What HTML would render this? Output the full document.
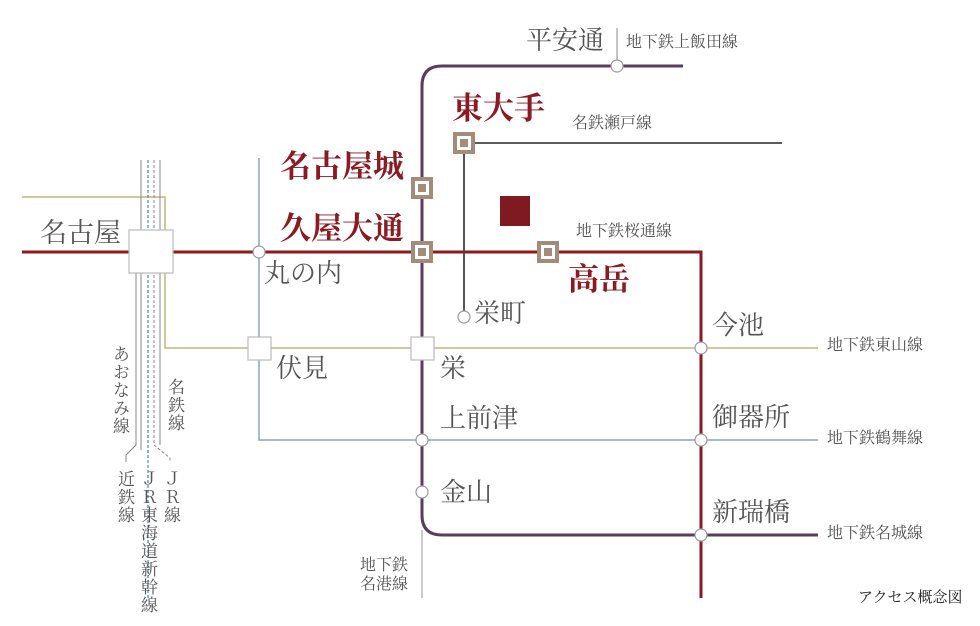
<!DOCTYPE html>
<html><head><meta charset="utf-8"><style>
body{margin:0;background:#fff;}
#w{position:relative;width:980px;height:626px;overflow:hidden;font-family:"Liberation Serif","Noto Serif CJK SC","Noto Sans CJK JP",serif;}
.t{position:absolute;white-space:nowrap;line-height:1;color:#555;}
.v{position:absolute;writing-mode:vertical-rl;line-height:1;color:#555;font-size:17px;letter-spacing:1px;}
.r{color:#8b1a22;font-weight:bold;}
</style></head><body><div id="w">
<svg width="980" height="626" style="position:absolute;left:0;top:0">
<g fill="none">
<path d="M22 197 H165 V348 H818" stroke="#c8b27a" stroke-width="1.5"/>
<path d="M259 158 V440 H818" stroke="#8aa6b2" stroke-width="1.5"/>
<path d="M136 230 V445 L126 455 V462" stroke="#888" stroke-width="1"/>
<path d="M141 160 V450" stroke="#888" stroke-width="1"/>
<path d="M148 160 V600" stroke="#4a8aa0" stroke-width="1.2" stroke-dasharray="3,2"/>
<path d="M154 160 V445 L170 458 V462" stroke="#888" stroke-width="1" stroke-dasharray="3,2"/>
<path d="M160 160 V445" stroke="#888" stroke-width="1"/>
<path d="M422 530 V598" stroke="#aaa" stroke-width="1.2"/>
<path d="M683 66 H442 Q422 66 422 86 V515 Q422 535 442 535 H818" stroke="#5b3c5e" stroke-width="3"/>
<path d="M22 252 H701 V598" stroke="#8b1a22" stroke-width="3"/>
<path d="M617 28 V60" stroke="#888" stroke-width="1"/>
<path d="M782 143 H464 V312" stroke="#444" stroke-width="1.8"/>
</g>
<rect x="129" y="230" width="44" height="43" fill="#fff" stroke="#bbb" stroke-width="1.2"/>
<rect x="248" y="337" width="23" height="23" fill="#fff" stroke="#bbb" stroke-width="1.2"/>
<rect x="411" y="337" width="23" height="23" fill="#fff" stroke="#bbb" stroke-width="1.2"/>
<g fill="#fff" stroke="#999" stroke-width="1.2">
<circle cx="259" cy="252" r="6"/><circle cx="617" cy="66" r="6"/><circle cx="464" cy="317" r="6"/>
<circle cx="422" cy="440" r="6"/><circle cx="422" cy="492" r="6"/>
<circle cx="701" cy="348" r="6"/><circle cx="701" cy="440" r="6"/><circle cx="701" cy="535" r="6"/>
</g>
<g>
<rect x="411" y="177" width="22" height="22" fill="#a48c7a"/><rect x="415" y="181" width="14" height="14" fill="#fff"/><rect x="418" y="184" width="8" height="8" fill="#a48c7a"/>
<rect x="411" y="241" width="22" height="22" fill="#a48c7a"/><rect x="415" y="245" width="14" height="14" fill="#fff"/><rect x="418" y="248" width="8" height="8" fill="#a48c7a"/>
<rect x="453" y="132" width="22" height="22" fill="#a48c7a"/><rect x="457" y="136" width="14" height="14" fill="#fff"/><rect x="460" y="139" width="8" height="8" fill="#a48c7a"/>
<rect x="537" y="241" width="22" height="22" fill="#a48c7a"/><rect x="541" y="245" width="14" height="14" fill="#fff"/><rect x="544" y="248" width="8" height="8" fill="#a48c7a"/>
</g>
<rect x="500" y="196" width="30" height="30" fill="#7e1a20"/>
</svg>
<div class="t" style="left:40px;top:220px;font-size:27px">名古屋</div>
<div class="t r" style="left:280px;top:151px;font-size:31px">名古屋城</div>
<div class="t r" style="left:280px;top:213px;font-size:31px">久屋大通</div>
<div class="t r" style="left:452px;top:93px;font-size:31px">東大手</div>
<div class="t r" style="left:568px;top:264px;font-size:31px">高岳</div>
<div class="t" style="left:526px;top:28px;font-size:26px">平安通</div>
<div class="t" style="left:626px;top:35px;font-size:16px">地下鉄上飯田線</div>
<div class="t" style="left:572px;top:116px;font-size:16px">名鉄瀬戸線</div>
<div class="t" style="left:576px;top:224px;font-size:16px">地下鉄桜通線</div>
<div class="t" style="left:264px;top:261px;font-size:26px">丸の内</div>
<div class="t" style="left:474px;top:301px;font-size:26px">栄町</div>
<div class="t" style="left:276px;top:356px;font-size:26px">伏見</div>
<div class="t" style="left:440px;top:356px;font-size:26px">栄</div>
<div class="t" style="left:440px;top:406px;font-size:26px">上前津</div>
<div class="t" style="left:440px;top:480px;font-size:26px">金山</div>
<div class="t" style="left:712px;top:313px;font-size:26px">今池</div>
<div class="t" style="left:712px;top:405px;font-size:26px">御器所</div>
<div class="t" style="left:712px;top:500px;font-size:26px">新瑞橋</div>
<div class="t" style="left:827px;top:338px;font-size:16px">地下鉄東山線</div>
<div class="t" style="left:827px;top:431px;font-size:16px">地下鉄鶴舞線</div>
<div class="t" style="left:827px;top:526px;font-size:16px">地下鉄名城線</div>
<div class="t" style="left:858px;top:591px;font-size:15px;color:#222">アクセス概念図</div>
<div class="t" style="left:360px;top:556px;font-size:16px;line-height:19px;text-align:center">地下鉄<br>名港線</div>
<div class="v" style="left:111px;top:345px">あおなみ線</div>
<div class="v" style="left:166px;top:378px">名鉄線</div>
<div class="v" style="left:116px;top:470px">近鉄線</div>
<div class="v" style="left:139px;top:470px">ＪＲ東海道新幹線</div>
<div class="v" style="left:162px;top:470px">ＪＲ線</div>
</div></body></html>
